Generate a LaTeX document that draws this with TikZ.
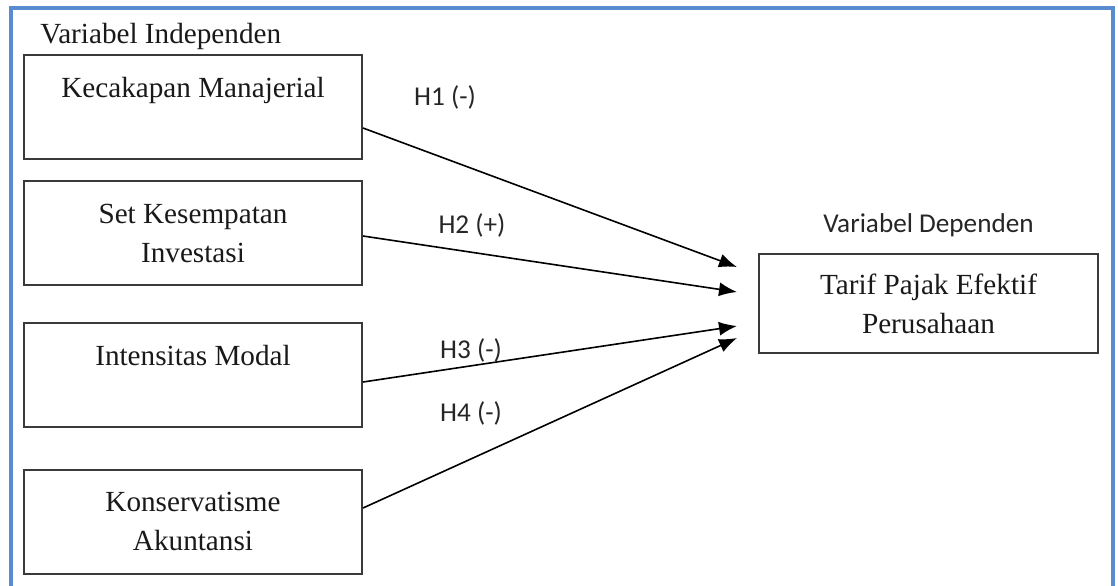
\documentclass[tikz,border=0pt]{standalone}
\usepackage{fontspec}
\setmainfont{Liberation Serif}
\newfontfamily\timesfont{Liberation Serif}
\newfontfamily\calibri{Carlito}
\usepackage{tikz}
\usetikzlibrary{calc, arrows.meta}

\definecolor{frameblue}{HTML}{5A8AD0}
\definecolor{boxgray}{HTML}{3A3A3A}

\begin{document}
\begin{tikzpicture}[x = 0.5pt, y = -0.5pt,
		varbox/.style = {draw = boxgray, line width = 1pt, minimum width = 169pt, minimum height = 52pt,
			align = center, inner sep = 0pt, text = black!90, font = \timesfont\fontsize{14.6}{19.5}\selectfont},
		heading/.style = {inner sep = 0pt, text = black!90, font = \timesfont\fontsize{14.6}{17}\selectfont},
		hyp/.style = {font = \calibri\fontsize{13.6}{16}\selectfont, text = black!85},
		link/.style = {line width = 0.8pt, -{Latex[length = 9pt, width = 7pt]}}]
			\def\xIN{193};
			\def\xDEP{928.5};

			\useasboundingbox (0,0) rectangle (1118,585);
			\draw [frameblue, line width = 1.6pt] (11,600) -- (11,8) -- (1113,8) -- (1113,600);

			% independent variables
			\node [heading, anchor = base west] (indep) at (40,43) {Variabel Independen};
			\node [varbox] (kecakapan) at (\xIN,107) {Kecakapan Manajerial\\ ~};
			\node [varbox] (kesempatan) at (\xIN,233) {Set Kesempatan\\Investasi};
			\node [varbox] (intensitas) at (\xIN,375) {Intensitas Modal\\ ~};
			\node [varbox] (konservatisme) at (\xIN,521.5) {Konservatisme\\Akuntansi};

			% dependent variable
			\node [hyp, anchor = base] (dep) at (\xDEP,232) {Variabel Dependen};
			\node [varbox, minimum width = 169.5pt, minimum height = 49.5pt] (tarif) at (\xDEP,303.5) {Tarif Pajak Efektif\\Perusahaan};

			% hypotheses
			\draw [link] ($(kecakapan.east)+(0,21)$) -- ($(tarif.west)+(-21,-36.5)$);
			\draw [link] ($(kesempatan.east)+(0,3)$) -- ($(tarif.west)+(-21,-11.5)$);
			\draw [link] ($(intensitas.east)+(0,7)$) -- ($(tarif.west)+(-21,22.5)$);
			\draw [link] ($(konservatisme.east)+(0,-13.5)$) -- ($(tarif.west)+(-21,34.5)$);

			\node [hyp] (h1) at (445,97) {H1 (-)};
			\node [hyp] (h2) at (472,225) {H2 (+)};
			\node [hyp] (h3) at (471,350) {H3 (-)};
			\node [hyp] (h4) at (471,413) {H4 (-)};
		\end{tikzpicture}
\end{document}
